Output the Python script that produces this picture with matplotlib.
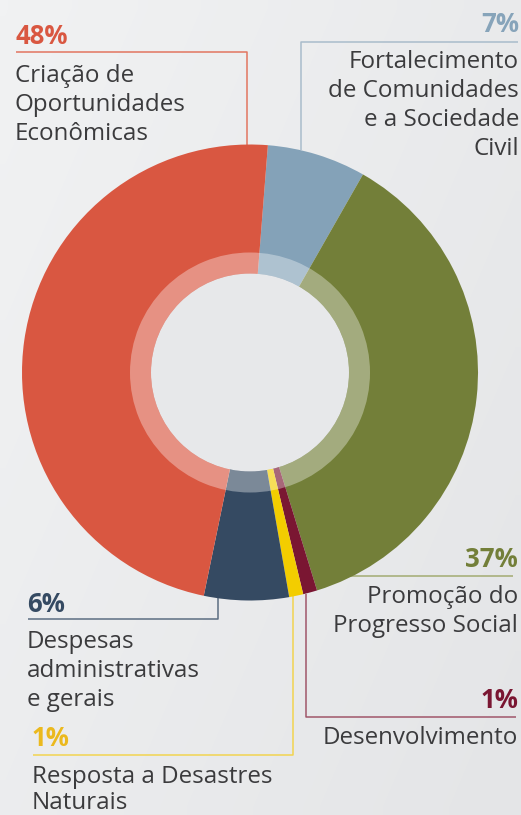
import numpy as np
import matplotlib

matplotlib.use("Agg")

import matplotlib.pyplot as plt  # noqa: E402
from matplotlib.colors import LinearSegmentedColormap  # noqa: E402
from matplotlib.patches import Circle, Wedge  # noqa: E402

# data, clockwise from the top
categories = [
    "Fortalecimento\nde Comunidades\ne a Sociedade\nCivil",
    "Promoção do\nProgresso Social",
    "Desenvolvimento",
    "Resposta a Desastres\nNaturais",
    "Despesas\nadministrativas\ne gerais",
    "Criação de\nOportunidades\nEconômicas",
]
shares = [7, 37, 1, 1, 6, 48]
pct_labels = ["7%", "37%", "1%", "1%", "6%", "48%"]
colors = ["#84a2b8", "#737f39", "#7a1632", "#f3cd00", "#354a62", "#d95741"]
pct_colors = ["#87a4ba", "#737f39", "#7a1632", "#ebb91e", "#354a62", "#d95741"]
line_colors = ["#a9bccb", "#a3ab72", "#a0566a", "#f2d450", "#5c6e82", "#e27560"]

W, H = 521, 815
CX, CY = 250, H - 372.5
R_OUT, R_RING, R_HOLE = 228, 120, 99
TXT = "#3b3b3d"
FONT = "Open Sans"

fig = plt.figure(figsize=(W / 100, H / 100), dpi=100)
ax = fig.add_axes([0, 0, 1, 1])

# soft background gradient
bg = LinearSegmentedColormap.from_list("bg", ["#f1f2f3", "#e4e5e7"])
gx, gy = np.meshgrid(np.linspace(0, 1, 50), np.linspace(0, 1, 50))
ax.imshow(0.6 * gx + 0.4 * gy, extent=(0, W, 0, H), origin="upper", cmap=bg,
          vmin=0, vmax=1, interpolation="bilinear", zorder=0)

ax.pie(shares, colors=colors, startangle=85.5, counterclock=False,
       radius=R_OUT, center=(CX, CY), frame=True,
       wedgeprops=dict(linewidth=0, zorder=2))
ax.set_xlim(0, W)
ax.set_ylim(0, H)
ax.set_aspect("equal")
ax.axis("off")
ax.add_patch(Wedge((CX, CY), R_RING, 0, 360, width=R_RING - R_HOLE,
                   facecolor="white", alpha=0.35, linewidth=0, zorder=3))
ax.add_patch(Circle((CX, CY), R_HOLE, facecolor="#e7e8ea", linewidth=0, zorder=4))


def py(y):
    return H - y


def rim_y(x, lower):
    d = np.sqrt(max(R_OUT ** 2 - (x - CX) ** 2, 0))
    return CY - d if lower else CY + d


def leader(pts, color):
    xs = [p[0] for p in pts]
    ys = [p[1] for p in pts]
    ax.plot(xs, ys, color=color, lw=1.1, solid_capstyle="butt", zorder=1)


def pct(x, y, s, color, ha):
    ax.text(x, py(y), s, color=color, fontsize=18.5, fontweight="bold",
            family=FONT, ha=ha, va="baseline", zorder=5)


def label(x, y, s, ha):
    ax.text(x, py(y), s, color=TXT, fontsize=17.4, family=FONT, ha=ha,
            va="baseline", zorder=5)


# 48% - Criação de Oportunidades
leader([(16, py(52)), (247, py(52)), (247, rim_y(247, False))], line_colors[5])
pct(15, 44, pct_labels[5], pct_colors[5], "left")
for i, ln in enumerate(categories[5].split("\n")):
    label(15, 82 + i * 29, ln, "left")

# 7% - Fortalecimento
leader([(518, py(42)), (301, py(42)), (301, rim_y(301, False))], line_colors[0])
pct(519, 32, pct_labels[0], pct_colors[0], "right")
for i, ln in enumerate(categories[0].split("\n")):
    label(519, 68 + i * 29, ln, "right")

# 37% - Promoção do Progresso Social
leader([(340, py(576)), (513, py(576))], line_colors[1])
pct(518, 567, pct_labels[1], pct_colors[1], "right")
for i, ln in enumerate(categories[1].split("\n")):
    label(518, 603 + i * 29, ln, "right")

# 1% - Desenvolvimento
leader([(306, rim_y(306, True)), (306, py(717)), (516, py(717))], line_colors[2])
pct(518, 708, pct_labels[2], pct_colors[2], "right")
label(518, 744, categories[2], "right")

# 1% - Resposta a Desastres Naturais
leader([(293, rim_y(293, True)), (293, py(755)), (33, py(755))], line_colors[3])
pct(32, 746, pct_labels[3], pct_colors[3], "left")
for i, ln in enumerate(categories[3].split("\n")):
    label(32, 783 + i * 26, ln, "left")

# 6% - Despesas administrativas
leader([(218, rim_y(218, True)), (218, py(619)), (28, py(619))], line_colors[4])
pct(27, 612, pct_labels[4], pct_colors[4], "left")
for i, ln in enumerate(categories[4].split("\n")):
    label(27, 648 + i * 29, ln, "left")

fig.savefig("out.png", dpi=100)
